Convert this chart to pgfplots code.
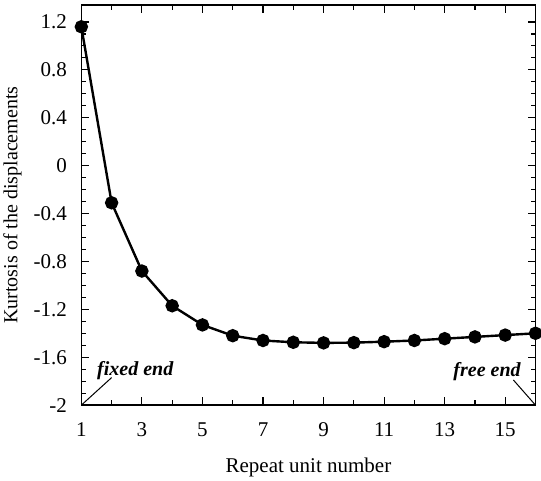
\documentclass[border=0pt]{standalone}
\usepackage{fontspec}
\setmainfont{Liberation Serif}
\usepackage{pgfplots}
\pgfplotsset{compat=1.18}

\begin{document}
\begin{tikzpicture}
\begin{axis}[
  scale only axis,
  width=454pt, height=400pt,
  xmin=1, xmax=16,
  ymin=-2, ymax=1.342,
  xtick={1,3,...,15},
  minor xtick={2,4,...,16},
  ytick={-2,-1.6,...,1.21},
  yticklabels={-2,-1.6,-1.2,-0.8,-0.4,0,0.4,0.8,1.2},
  minor y tick num=3,
  tick align=inside,
  major tick length=8pt,
  minor tick length=5pt,
  tick style={line width=1.1pt, black},
  axis line style={line width=1.6pt},
  /pgf/number format/assume math mode=true,
  tick label style={font=\fontsize{21}{25}\selectfont},
  xticklabel style={yshift=-14pt},
  yticklabel style={xshift=-11pt},
  xlabel={Repeat unit number},
  ylabel={Kurtosis of the displacements},
  xlabel style={font=\fontsize{21}{25}\selectfont, yshift=-14pt},
  ylabel style={font=\fontsize{20}{24}\selectfont, yshift=5pt},
  clip=false,
]
  \addplot[black, line width=2.4pt, mark=*, mark size=5.5pt]
    coordinates {(1,1.16)(2,-0.31)(3,-0.88)(4,-1.17)(5,-1.33)(6,-1.42)
                 (7,-1.46)(8,-1.475)(9,-1.48)(10,-1.478)(11,-1.47)(12,-1.46)
                 (13,-1.445)(14,-1.43)(15,-1.415)(16,-1.40)};
  \draw[line width=1pt] (axis cs:1,-2) -- (axis cs:2.0,-1.77);
  \node[font=\fontsize{20}{24}\selectfont\bfseries\itshape] at (axis cs:2.78,-1.71) {fixed end};
  \draw[line width=1pt] (axis cs:16,-2) -- (axis cs:15.27,-1.79);
  \node[font=\fontsize{20}{24}\selectfont\bfseries\itshape] at (axis cs:14.4,-1.72) {free end};
  \path (rel axis cs:1,1) ++(4pt,5pt);
\end{axis}
\end{tikzpicture}
\end{document}
